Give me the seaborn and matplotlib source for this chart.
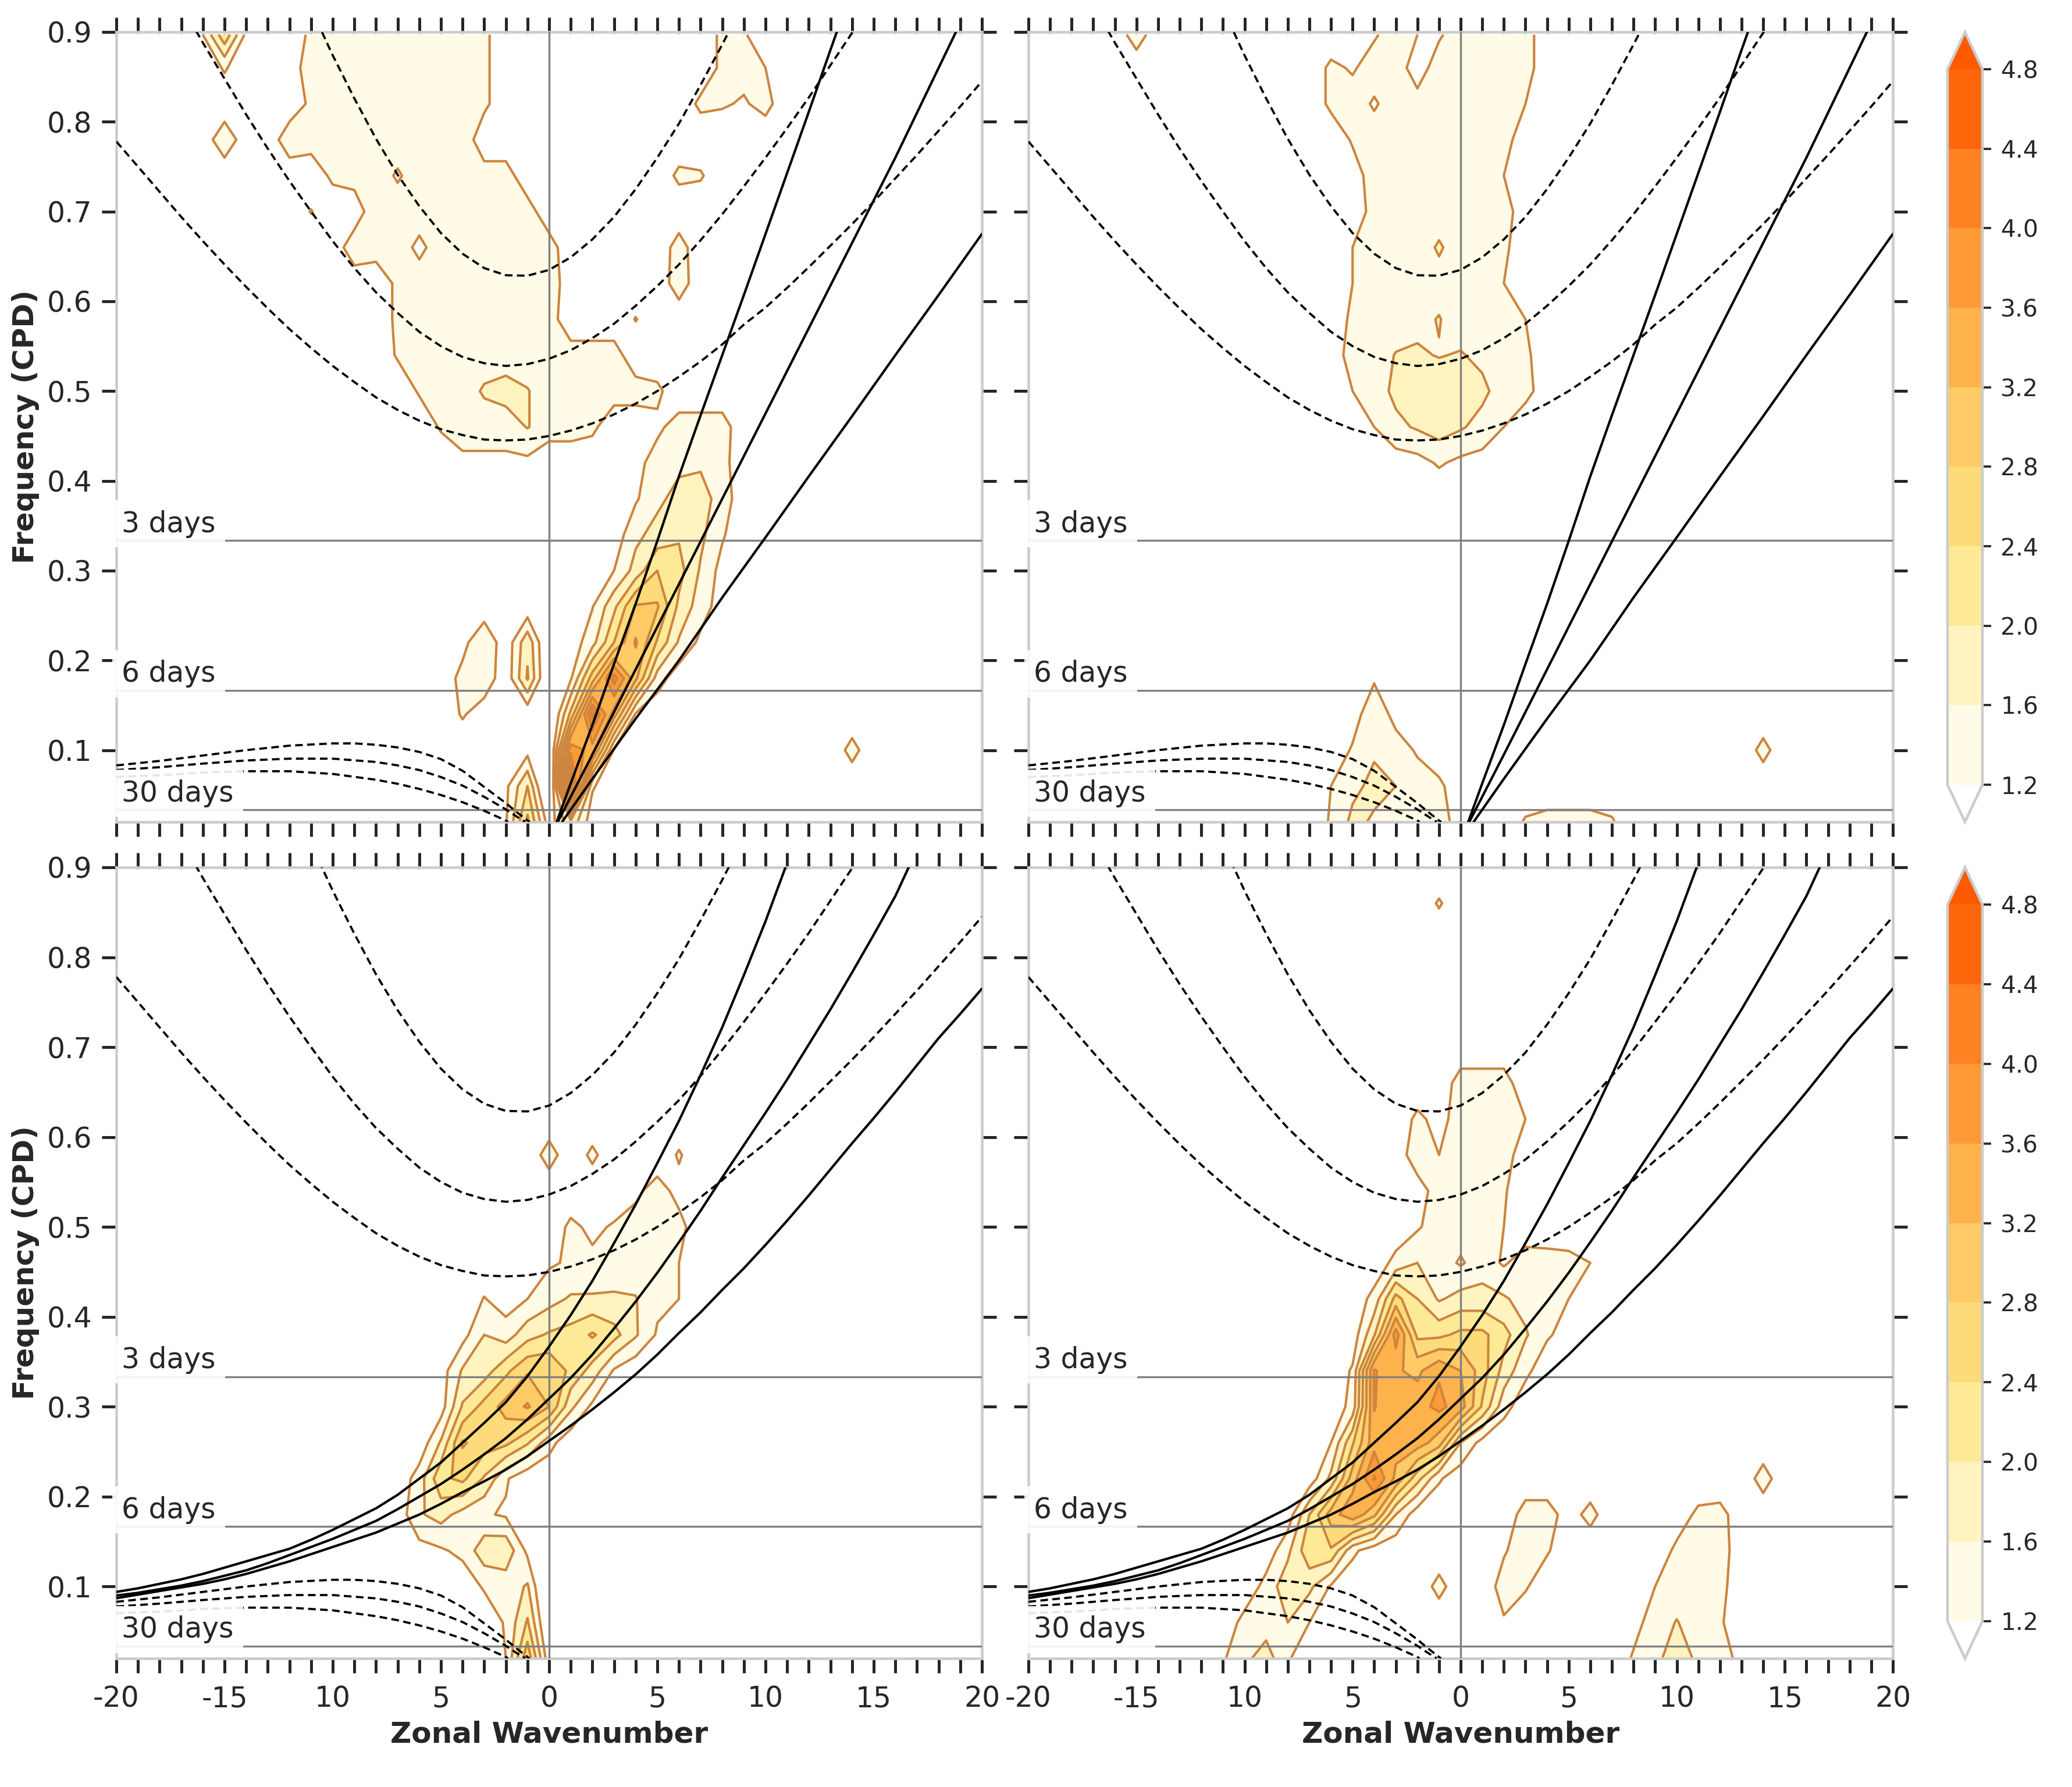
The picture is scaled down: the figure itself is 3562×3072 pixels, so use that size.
import matplotlib
matplotlib.use('Agg')
import matplotlib.pyplot as plt
import numpy as np
import seaborn as sns
from matplotlib.colors import BoundaryNorm, ListedColormap

wavenumbers = list(range(-20, 21))
freqs = [0.02, 0.06, 0.10, 0.14, 0.18, 0.22, 0.26, 0.30, 0.34, 0.38, 0.42, 0.46,
         0.50, 0.54, 0.58, 0.62, 0.66, 0.70, 0.74, 0.78, 0.82, 0.86, 0.897]
background = 0.9
levels = [1.2, 1.6, 2.0, 2.4, 2.8, 3.2, 3.6, 4.0, 4.4, 4.8]
fill_colors = ['#fffbe6', '#fff3c0', '#feea96', '#fedb7a', '#fecb66', '#feb24c',
               '#fe9a36', '#fe8122', '#fe660b']
over_color = '#fe5a00'
line_color = '#cd853f'

# (frequency, first wavenumber, values along that row), anything else is below 1.2
cells_a = [
    (0.897, -16, [1.2, 2.3, 1.1]),
    (0.897, -11, [1.3, 1.4, 1.4, 1.4, 1.4, 1.4, 1.4, 1.4, 1.3]),
    (0.897, 8, [1.3, 1.25]),
    (0.86, -15, [1.25]),
    (0.86, -11, [1.5, 1.4, 1.4, 1.4, 1.4, 1.4, 1.4, 1.4, 1.3]),
    (0.86, 8, [1.3, 1.35, 1.2]),
    (0.82, -11, [1.3, 1.4, 1.4, 1.4, 1.4, 1.4, 1.4, 1.4, 1.3]),
    (0.82, 7, [1.3, 1.25, 1.15, 1.35]),
    (0.78, -16, [0.95, 1.5, 0.95]),
    (0.78, -12, [1.5, 1.4, 1.4, 1.4, 1.4, 1.4, 1.4, 1.4, 1.5]),
    (0.74, -10, [1.3, 1.4, 1.4, 1.15, 1.4, 1.4, 1.4, 1.4, 1.4]),
    (0.74, 6, [1.3, 1.25]),
    (0.70, -11, [1.22]),
    (0.70, -8, [1.55, 1.4, 1.4, 1.4, 1.4, 1.4, 1.4, 1.4]),
    (0.66, -9, [1.5, 1.4, 1.4, 1.1, 1.4, 1.4, 1.4, 1.4, 1.4, 1.4]),
    (0.66, 6, [1.4]),
    (0.62, -7, [1.3, 1.4, 1.4, 1.4, 1.4, 1.4, 1.4, 1.5]),
    (0.62, 6, [1.45]),
    (0.58, -7, [1.3, 1.4, 1.4, 1.4, 1.4, 1.4, 1.4, 1.4]),
    (0.58, 4, [1.22]),
    (0.54, -7, [1.25, 1.4, 1.4, 1.4, 1.4, 1.4, 1.4, 1.4, 1.4, 1.4, 1.4]),
    (0.50, -6, [1.25, 1.4, 1.4, 1.65, 1.75, 1.62, 1.4, 1.4, 1.4, 1.4, 1.4, 1.3]),
    (0.46, -5, [1.25, 1.4, 1.4, 1.4, 1.62, 1.4, 1.4, 1.3]),
    (0.46, 5, [1.1, 1.4, 1.4, 1.4]),
    (0.42, -4, [1.1, 1.1, 1.1, 1.1]),
    (0.42, 4, [1.05, 1.4, 1.5, 1.55, 1.35]),
    (0.38, 4, [1.15, 1.5, 1.75, 1.75, 1.45]),
    (0.34, 3, [0.95, 1.5, 1.75, 1.95, 1.7, 1.25]),
    (0.30, 3, [1.2, 1.75, 2.4, 2.15, 1.55, 1.05]),
    (0.26, 2, [1.18, 1.9, 2.85, 2.85, 1.9, 1.4, 1.0]),
    (0.22, -4, [1.05, 1.6]),
    (0.22, -1, [1.9, 0.6]),
    (0.22, 1, [0.95, 1.45, 2.4, 3.25, 2.35, 1.55, 1.1]),
    (0.18, -4, [1.35, 1.5]),
    (0.18, -1, [2.05, 0.6]),
    (0.18, 1, [1.15, 2.6, 4.2, 2.9, 1.4, 0.95]),
    (0.14, -4, [1.25, 0.95]),
    (0.14, 0, [0.5, 2.1, 4.5, 3.0, 1.15]),
    (0.10, -1, [1.05, 0.5, 3.9, 3.4, 1.15]),
    (0.10, 14, [1.35]),
    (0.06, -2, [1.1, 2.0, 0.3, 5.0, 1.25]),
    (0.02, -2, [1.15, 2.5, 0.95, 1.9, 0.95]),
]
cells_b = [
    (0.897, -15, [1.45]),
    (0.897, -4, [1.15, 1.4, 1.2, 1.15, 1.4, 1.4, 1.4, 1.4]),
    (0.86, -6, [1.3, 1.15, 1.4, 1.4, 1.0, 1.4, 1.4, 1.4, 1.4, 1.4]),
    (0.82, -6, [1.3, 1.4, 1.15, 1.4, 1.35, 1.4, 1.4, 1.4, 1.4, 1.2]),
    (0.78, -5, [1.25, 1.4, 1.4, 1.4, 1.4, 1.4, 1.4, 1.4]),
    (0.74, -5, [1.0, 1.4, 1.4, 1.4, 1.4, 1.4, 1.4, 1.2]),
    (0.70, -5, [0.95, 1.35, 1.4, 1.4, 1.4, 1.4, 1.4, 1.35, 1.0]),
    (0.66, -5, [1.2, 1.4, 1.4, 1.4, 1.65, 1.4, 1.4, 1.3]),
    (0.62, -5, [1.2, 1.4, 1.4, 1.4, 1.45, 1.4, 1.4, 1.2]),
    (0.58, -5, [1.3, 1.4, 1.4, 1.5, 1.62, 1.4, 1.4, 1.4, 1.2]),
    (0.54, -6, [1.0, 1.35, 1.4, 1.62, 1.65, 1.58, 1.63, 1.5, 1.4, 1.3]),
    (0.50, -5, [1.2, 1.4, 1.7, 1.85, 1.85, 1.8, 1.7, 1.4, 1.35, 0.95]),
    (0.46, -4, [1.2, 1.5, 1.65, 1.8, 1.65, 1.45, 1.2]),
    (0.42, -3, [1.0, 1.05, 1.25, 1.1, 1.05]),
    (0.18, -4, [1.15]),
    (0.14, -5, [1.0, 1.5, 1.05]),
    (0.10, -5, [1.25, 1.55, 1.4, 1.15]),
    (0.10, 14, [1.35]),
    (0.06, -6, [1.2, 1.5, 1.7, 1.6, 1.4, 1.3]),
    (0.02, -6, [1.25, 1.7, 1.55, 1.35, 1.6, 1.5]),
    (0.02, 3, [1.25, 1.35, 1.35, 1.35, 1.25]),
]
cells_c = [
    (0.58, 0, [1.4, 0.9, 1.3]),
    (0.58, 6, [1.25]),
    (0.54, 4, [1.1, 1.4, 1.05]),
    (0.50, 1, [1.3, 1.1, 1.25, 1.4, 1.4, 1.35]),
    (0.46, 0, [1.15, 1.25, 1.3, 1.4, 1.4, 1.4, 1.2]),
    (0.42, -3, [1.22, 1.0, 1.2, 1.45, 1.65, 1.65, 1.65, 1.62, 1.3, 1.2]),
    (0.38, -4, [1.05, 1.6, 1.4, 1.85, 2.05, 2.15, 2.45, 2.15, 1.65, 1.15]),
    (0.34, -5, [1.0, 1.65, 1.8, 2.3, 2.75, 2.75, 2.3, 1.85, 1.15]),
    (0.30, -5, [1.0, 2.05, 2.55, 2.95, 3.25, 2.8, 1.7, 1.1]),
    (0.26, -6, [0.9, 1.65, 2.85, 2.6, 2.5, 2.05, 1.35]),
    (0.22, -7, [0.9, 1.4, 2.3, 2.5, 1.95, 1.25]),
    (0.18, -7, [0.95, 1.55, 1.75, 1.45, 1.25, 1.15]),
    (0.14, -6, [1.05, 1.15, 1.3, 1.85, 1.9, 1.1]),
    (0.10, -4, [0.95, 1.25, 1.35, 1.65, 0.4]),
    (0.06, -2, [1.25, 2.05, 0.6]),
    (0.02, -2, [1.2, 2.7, 0.9]),
]
cells_d = [
    (0.86, -1, [1.25]),
    (0.66, 0, [1.4, 1.4, 1.4]),
    (0.62, -2, [1.3, 1.05, 1.4, 1.4, 1.4, 1.2]),
    (0.58, -3, [0.95, 1.45, 1.2, 1.4, 1.4, 1.4, 0.95]),
    (0.54, -2, [1.0, 1.4, 1.4, 1.4, 1.25]),
    (0.50, -2, [1.15, 1.4, 1.4, 1.4, 1.2, 0.95]),
    (0.46, -4, [0.9, 1.35, 1.6, 1.4, 1.15, 1.4, 1.15, 1.4, 1.4, 1.35, 1.2]),
    (0.42, -4, [1.35, 2.55, 2.0, 1.55, 1.75, 1.75, 1.65, 1.45, 1.35, 1.2]),
    (0.38, -5, [0.95, 1.95, 3.8, 2.3, 2.3, 2.5, 2.5, 2.15, 1.65, 1.25, 1.05]),
    (0.34, -5, [1.25, 3.65, 3.25, 3.1, 3.55, 3.2, 2.6, 1.85, 1.3, 0.95]),
    (0.30, -6, [0.9, 1.35, 3.62, 3.3, 3.45, 3.7, 3.4, 2.35, 1.35, 0.95]),
    (0.26, -6, [1.2, 2.35, 3.45, 3.35, 3.4, 3.0, 1.6, 1.05]),
    (0.22, -7, [0.95, 1.7, 3.0, 4.05, 3.1, 2.15, 1.25, 0.95]),
    (0.22, 14, [1.4]),
    (0.18, -8, [0.95, 2.0, 3.0, 3.5, 2.9, 1.6, 0.95]),
    (0.18, 3, [1.4, 1.4, 1.0, 1.35]),
    (0.18, 10, [0.95, 1.3, 1.35, 0.95]),
    (0.14, -9, [0.95, 1.5, 2.3, 2.35, 1.3, 0.95]),
    (0.14, 2, [1.15, 1.45, 1.25]),
    (0.14, 10, [1.3, 1.4, 1.4, 0.95]),
    (0.10, -10, [0.9, 1.35, 1.85, 1.7, 1.15]),
    (0.10, -1, [1.35]),
    (0.10, 2, [1.4, 1.25]),
    (0.10, 9, [1.2, 1.4, 1.4, 1.35]),
    (0.06, -10, [1.35, 1.4, 1.6, 1.2]),
    (0.06, 2, [1.15]),
    (0.06, 8, [1.05, 1.4, 1.62, 1.4, 1.25, 0.95]),
    (0.02, -11, [1.15, 1.5, 1.8, 1.25]),
    (0.02, 8, [1.25, 1.4, 2.0, 1.45, 1.35, 1.1]),
]

# inertio-gravity curves, same on all four panels
ig_k = [-20, -19, -18, -17, -16, -15, -14, -13, -12, -11, -10, -9, -8, -7, -6, -5, -4, -3, -2, -1, 0,
        1, 2, 3, 4, 5, 6, 7, 8, 9, 10, 11, 12, 13, 14, 15, 16, 17, 18, 19, 20]
ig_low = [0.778, 0.750, 0.722, 0.694, 0.667, 0.641, 0.616, 0.592, 0.569, 0.548, 0.528, 0.510,
          0.493, 0.479, 0.467, 0.4575, 0.451, 0.446, 0.445, 0.446, 0.450, 0.456, 0.464, 0.474,
          0.486, 0.500, 0.516, 0.533, 0.552, 0.574, 0.593, 0.615, 0.638, 0.662, 0.686, 0.711,
          0.737, 0.763, 0.790, 0.817, 0.845]
ig_mid_k = [-18, -17, -16, -15, -14, -13, -12, -11, -10, -9, -8, -7, -6, -5, -4, -3, -2, -1, 0,
            1, 2, 3, 4, 5, 6, 7, 8, 9, 10, 11, 12, 13, 14, 15, 16]
ig_mid = [0.972, 0.930, 0.888, 0.848, 0.808, 0.770, 0.734, 0.700, 0.667, 0.637, 0.610, 0.587,
          0.566, 0.550, 0.538, 0.531, 0.528, 0.530, 0.536, 0.5455, 0.559, 0.575, 0.595, 0.617,
          0.641, 0.668, 0.697, 0.728, 0.760, 0.793, 0.827, 0.863, 0.899, 0.937, 0.975]
ig_top_k = [-12, -11, -10, -9, -8, -7, -6, -5, -4, -3, -2, -1, 0, 1, 2, 3, 4, 5, 6, 7, 8, 9, 10]
ig_top = [0.980, 0.926, 0.874, 0.826, 0.781, 0.741, 0.706, 0.676, 0.653, 0.637, 0.629, 0.6285,
          0.635, 0.649, 0.669, 0.694, 0.725, 0.760, 0.798, 0.841, 0.886, 0.933, 0.983]

# equatorial Rossby curves
er_top_k = [-20, -18, -16, -14, -12, -10, -9, -8, -7, -6, -5, -4, -3.5, -3, -2.5, -2, -1.5, -1, -0.9]
er_top = [0.083, 0.088, 0.094, 0.100, 0.105, 0.1075, 0.1075, 0.106, 0.103, 0.098, 0.090, 0.077,
          0.068, 0.059, 0.050, 0.041, 0.031, 0.0216, 0.02]
er_mid_k = [-20, -18, -16, -14, -12, -10, -8, -7, -6, -5, -4, -3, -2, -1.5, -1.1]
er_mid = [0.0778, 0.081, 0.085, 0.0885, 0.0905, 0.0905, 0.0868, 0.083, 0.0778, 0.070, 0.0605,
          0.048, 0.034, 0.026, 0.02]
er_low_k = [-20, -18, -16, -14, -12, -10, -8, -7, -6, -5, -4, -3, -2, -1.9]
er_low = [0.0702, 0.072, 0.075, 0.0765, 0.0765, 0.0735, 0.067, 0.0625, 0.0568, 0.050, 0.042,
          0.0324, 0.0216, 0.02]

# Kelvin curves, top row
kelvin_a_k = [0.35, 1, 2, 3, 4, 5, 6, 7, 8, 9, 10, 11, 12, 13, 13.5]
kelvin_a = [0.02, 0.063, 0.128, 0.196, 0.263, 0.333, 0.405, 0.473, 0.54, 0.607, 0.675, 0.743,
            0.811, 0.88, 0.914]
kelvin_b_k = [0.4, 2, 4, 6, 8, 10, 12, 14, 16, 18, 20]
kelvin_b = [0.02, 0.095, 0.19, 0.285, 0.38, 0.475, 0.57, 0.665, 0.76, 0.86, 0.96]
kelvin_c_k = [0.6, 2, 4, 6, 8, 10, 12, 14, 16, 18, 20]
kelvin_c = [0.02, 0.068, 0.135, 0.2, 0.27, 0.337, 0.405, 0.472, 0.54, 0.607, 0.675]

# Kelvin curves, bottom row
shear_a_k = [-20, -19, -18, -17, -16, -15, -14, -13, -12, -11, -10, -9, -8, -7, -6, -5, -4, -3,
             -2, -1, 0, 1, 2, 3, 4, 5, 6, 7, 8, 9, 10, 11]
shear_a = [0.094, 0.098, 0.103, 0.108, 0.114, 0.121, 0.128, 0.135, 0.142, 0.152, 0.163, 0.175,
           0.187, 0.202, 0.22, 0.238, 0.26, 0.282, 0.305, 0.334, 0.367, 0.402, 0.44, 0.482,
           0.525, 0.571, 0.618, 0.669, 0.722, 0.78, 0.84, 0.905]
shear_b_k = [-20, -19, -18, -17, -16, -15, -14, -13, -12, -11, -10, -9, -8, -7, -6, -5, -4, -3,
             -2, -1, 0, 1, 2, 3, 4, 5, 6, 7, 8, 9, 10, 11, 12, 13, 14, 15, 16, 17]
shear_b = [0.09, 0.093, 0.097, 0.101, 0.106, 0.112, 0.118, 0.126, 0.135, 0.144, 0.153, 0.163,
           0.173, 0.186, 0.2, 0.214, 0.23, 0.247, 0.265, 0.286, 0.309, 0.332, 0.358, 0.387,
           0.417, 0.449, 0.483, 0.518, 0.555, 0.591, 0.627, 0.664, 0.703, 0.742, 0.783, 0.825,
           0.868, 0.92]
shear_c_k = [-20, -19, -18, -17, -16, -15, -14, -13, -12, -11, -10, -9, -8, -7, -6, -5, -4, -3,
             -2, -1, 0, 1, 2, 3, 4, 5, 6, 7, 8, 9, 10, 11, 12, 13, 14, 15, 16, 17, 18, 19, 20]
shear_c = [0.087, 0.091, 0.095, 0.099, 0.103, 0.108, 0.114, 0.121, 0.128, 0.136, 0.144, 0.152,
           0.16, 0.17, 0.18, 0.192, 0.205, 0.217, 0.23, 0.245, 0.262, 0.279, 0.297, 0.316,
           0.336, 0.358, 0.382, 0.405, 0.43, 0.454, 0.48, 0.507, 0.535, 0.564, 0.593, 0.621,
           0.65, 0.68, 0.71, 0.737, 0.765]

period_freqs = [1 / 3, 1 / 6, 1 / 30]
period_labels = ['3 days', '6 days', '30 days']
period_text_y = [0.343, 0.176, 0.043]
xtick_pos = [-20, -15, -10, -5, 0, 5, 10, 15, 20]
xtick_labels = ['-20', '-15', '10', '5', '0', '5', '10', '15', '20']
ytick_pos = [0.1, 0.2, 0.3, 0.4, 0.5, 0.6, 0.7, 0.8, 0.9]

W, H = 3562, 3072
DARK = '#262626'
GREY = '#cccccc'


def box(x0, y0, x1, y1):
    return [x0 / W, 1 - y1 / H, (x1 - x0) / W, (y1 - y0) / H]


def build_grid(cells):
    grid = np.full((len(freqs), len(wavenumbers)), background)
    for f, k0, vals in cells:
        row = freqs.index(f)
        col = wavenumbers.index(k0)
        grid[row, col:col + len(vals)] = vals
    return grid


def draw_panel(ax, cells, kelvin, left, bottom):
    grid = build_grid(cells)
    cf = ax.contourf(wavenumbers, freqs, grid, levels=levels, cmap=cmap, norm=norm, extend='both')
    ax.contour(wavenumbers, freqs, grid, levels=levels, colors=line_color, linewidths=1.0)
    ax.axvline(0, color='#808080', lw=0.8, zorder=3)
    for f in period_freqs:
        ax.axhline(f, color='#808080', lw=0.8, zorder=3)
    for k, f in [(ig_k, ig_low), (ig_mid_k, ig_mid), (ig_top_k, ig_top),
                 (er_top_k, er_top), (er_mid_k, er_mid), (er_low_k, er_low)]:
        sns.lineplot(x=k, y=f, ax=ax, color='black', linewidth=0.9, linestyle=(0, (3.5, 2)),
                     sort=False, estimator=None, errorbar=None, zorder=4)
    for k, f in kelvin:
        sns.lineplot(x=k, y=f, ax=ax, color='black', linewidth=1.0,
                     sort=False, estimator=None, errorbar=None, zorder=4)
    for y, label in zip(period_text_y, period_labels):
        ax.text(-19.75, y, label, fontsize=11.7, color=DARK, zorder=6, clip_on=False,
                bbox=dict(facecolor='white', edgecolor='none', alpha=0.9, pad=4))
    ax.set_xlim(-20, 20)
    ax.set_ylim(0.02, 0.9)
    ax.set_xticks(wavenumbers)
    ax.set_yticks(ytick_pos)
    ax.tick_params(axis='x', which='major', top=True, bottom=True, direction='out', length=6,
                   width=1.2, color=DARK, labelsize=11.7, labelcolor=DARK, pad=5)
    ax.tick_params(axis='y', which='major', left=True, right=True, direction='out', length=6,
                   width=1.2, color=DARK, labelsize=11.7, labelcolor=DARK, pad=4)
    labels = [xtick_labels[xtick_pos.index(k)] if k in xtick_pos else '' for k in wavenumbers]
    ax.set_xticklabels(labels if bottom else [''] * len(wavenumbers))
    if left:
        ax.set_yticklabels([f'{y:.1f}' for y in ytick_pos])
        ax.set_ylabel('Frequency (CPD)', fontsize=12, fontweight='bold', color=DARK, labelpad=3)
    else:
        ax.set_yticklabels([])
        ax.set_ylabel('')
    if bottom:
        ax.set_xlabel('Zonal Wavenumber', fontsize=12, fontweight='bold', color=DARK, labelpad=3)
    else:
        ax.set_xlabel('')
    for spine in ax.spines.values():
        spine.set_color(GREY)
        spine.set_linewidth(1.1)
    stub = ax.secondary_xaxis('top')
    stub.set_xticks(wavenumbers)
    stub.tick_params(direction='in', length=1.8, width=0.9, color=GREY, labeltop=False)
    stub.spines['top'].set_visible(False)
    return cf


def draw_colorbar(cf, cax):
    cb = fig.colorbar(cf, cax=cax, extend='both', extendfrac=0.052, spacing='uniform',
                      ticks=levels[:], drawedges=False)
    cb.ax.tick_params(length=3.5, width=0.9, color=DARK, labelsize=9.8, labelcolor=DARK, pad=4)
    cb.set_ticklabels([f'{v:.1f}' for v in levels])
    cb.outline.set_edgecolor(GREY)
    cb.outline.set_linewidth(1.1)


sns.set_theme(style='ticks')
plt.rcParams['font.family'] = ['DejaVu Sans']

cmap = ListedColormap(fill_colors)
cmap.set_under('white')
cmap.set_over(over_color)
norm = BoundaryNorm(levels, cmap.N, extend='neither')

fig = plt.figure(figsize=(W / 300, H / 300), dpi=300)
ax_a = fig.add_axes(box(200, 55, 1688, 1413))
ax_b = fig.add_axes(box(1768, 55, 3254, 1413))
ax_c = fig.add_axes(box(200, 1491, 1688, 2851))
ax_d = fig.add_axes(box(1768, 1491, 3254, 2851))
cax_top = fig.add_axes(box(3348, 55, 3408, 1413))
cax_bot = fig.add_axes(box(3348, 1491, 3408, 2851))

top_kelvin = [(kelvin_a_k, kelvin_a), (kelvin_b_k, kelvin_b), (kelvin_c_k, kelvin_c)]
bottom_kelvin = [(shear_a_k, shear_a), (shear_b_k, shear_b), (shear_c_k, shear_c)]

cf_a = draw_panel(ax_a, cells_a, top_kelvin, True, False)
draw_panel(ax_b, cells_b, top_kelvin, False, False)
cf_c = draw_panel(ax_c, cells_c, bottom_kelvin, True, True)
draw_panel(ax_d, cells_d, bottom_kelvin, False, True)
draw_colorbar(cf_a, cax_top)
draw_colorbar(cf_c, cax_bot)

fig.savefig('out.png', dpi=300)
